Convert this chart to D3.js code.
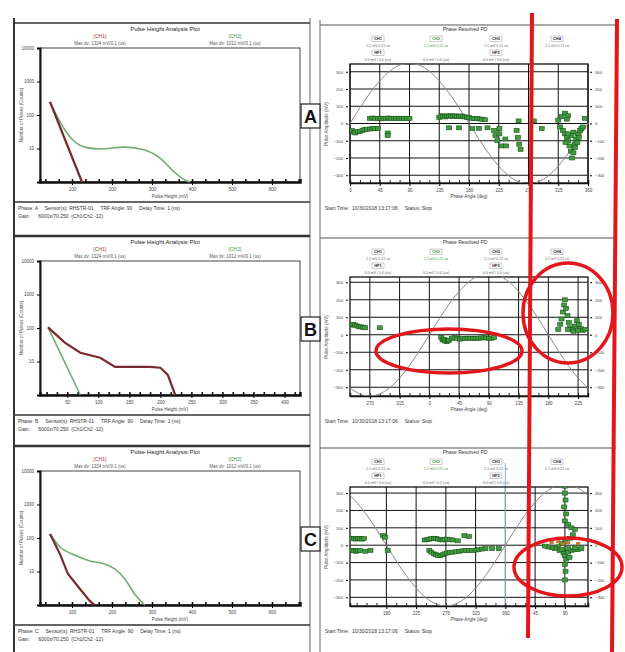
<!DOCTYPE html>
<html>
<head>
<meta charset="utf-8">
<script src="https://cdn.jsdelivr.net/npm/d3@7"></script>
<style>
  body { margin: 0; background: #fff; }
  text { font-family: "Liberation Sans", Arial, sans-serif; }
</style>
</head>
<body>
<svg id="chart" width="625" height="652"></svg>
<script>
// pulse height analysis curves, [pulse height (mV), pulse count]
var phaRedA = [[45,245],[85,15.6],[125,1]];
var phaGreenA = [[45,245],[70,62],[95,22],[132,11],[170,9.7],[232,11],[282,9],[320,5.2],[350,2.3],[382,1.15],[395,1]];
var phaRedB = [[19,104],[46,36.6],[71,18.3],[103,12.9],[127,6.9],[183,6.9],[200,6.5],[212,4],[224,1]];
var phaGreenB = [[19,104],[71,1]];
var phaRedC = [[45,132],[70,33],[90,8.4],[120,3],[145,1.3],[157,1]];
var phaGreenC = [[45,132],[70,54],[107,31],[145,20.5],[182,16.7],[207,11.9],[232,6],[257,2.1],[282,1]];

var heightTicksAC = [100,200,300,400,500,600];
var heightTicksB = [50,100,150,200,250,300,350,400];
var countTicks = [10,100,1000,10000];

// phase resolved plots, [phase (deg), amplitude (mV)]
var phaseTicksA = [0,45,90,135,180,225,270,315,360];
var phaseTicksB = [-90,-45,0,45,90,135,180,225];
var phaseTicksC = [180,225,270,315,360,405,450];
var ampTicks = [-300,-200,-100,0,100,200,300];

// reference voltage waveform
var refPhase = [0,15,30,45,60,75,90,105,120,135,150,165,180,195,210,225,240,255,270,285,300,315,330,345,360];
var refVolt = [0,91,175,247,303,338,350,338,303,247,175,91,0,-91,-175,-247,-303,-338,-350,-338,-303,-247,-175,-91,0];

var prpdA = [
  [30,30],[34,32],[38,30],[42,30],[46,31],[50,30],[54,30],[58,32],[62,30],[66,30],[70,31],[74,30],[78,30],[82,31],[86,30],[90,30],
  [135,35],[138,45],[141,40],[144,38],[147,45],[150,42],[153,45],[156,40],[159,45],[162,42],[165,40],[168,44],[171,42],
  [174,38],[177,36],[180,36],[184,30],[188,30],[192,28],[196,26],[200,25],[204,22],
  [3,-40],[6,-50],[8,-55],[12,-48],[15,-45],[19,-40],[22,-35],[26,-33],[30,-32],[34,-30],[38,-30],[42,-30],[57,-55],[57,-70],
  [150,-25],[165,-25],[185,-30],[195,-28],[208,-25],
  [218,-40],[220,-70],[223,-100],[226,-60],[230,-130],[235,-90],[226,-30],[236,-130],
  [252,-40],[254,-80],[256,-120],[258,-150],[255,15],[278,15],[290,-30],
  [315,20],[320,40],[325,60],[330,45],[328,25],[318,-20],[322,-40],[325,-60],[328,-80],[330,-100],
  [332,-130],[334,-160],[336,-200],[338,-170],[340,-120],[342,-90],[345,-60],[348,-40],[350,-30],
  [352,-20],[338,-50],[335,-70],[330,-60],[326,-110],[344,-110],[346,-80],[340,-140],[355,30]
];
var prpdB = [
  [-118,55],[-115,60],[-112,55],[-109,50],[-106,45],[-103,45],[-100,42],[-97,40],[-75,40],
  [18,-15],[20,-30],[22,-25],[24,-35],[26,-40],[28,-35],[30,-30],[34,-20],[38,-15],[42,-20],[46,-25],[50,-22],[54,-22],
  [58,-20],[62,-20],[66,-22],[70,-20],[74,-20],[78,-18],[82,-18],[86,-18],[90,-20],[94,-20],[98,-15],
  [195,30],[198,60],[200,90],[202,130],[204,170],[205,200],[207,150],[209,110],[211,70],[213,40],
  [216,30],[220,50],[223,80],[226,60],[229,35],[232,25],[210,30],[218,20],[225,25],[236,30]
];
var prpdC = [
  [128,40],[131,38],[134,35],[137,40],[140,38],[143,35],[146,38],[128,-30],[131,-32],[134,-35],[137,-32],[140,-30],[148,-35],[156,-30],
  [175,55],[178,45],[182,-30],
  [238,30],[242,33],[245,35],[248,38],[252,40],[255,38],[258,35],[262,32],[265,30],[268,33],[272,35],[276,32],[280,30],[288,25],
  [245,-30],[248,-40],[252,-50],[255,-55],[258,-60],[262,-58],[265,-55],[268,-50],[272,-45],[276,-42],[280,-40],[285,-38],
  [290,-35],[295,-32],[300,-30],[305,-30],[310,-30],[315,-28],[320,-25],[325,-22],[330,-20],[340,-20],[350,-20],[298,55],[305,50],
  [450,340],[450,300],[451,260],[449,220],[452,180],[450,140],[455,120],[460,100],[465,90],
  [462,60],[458,40],[450,20],[445,10],[440,-10],[435,-20],[442,-30],[448,-45],[450,-60],
  [452,-80],[450,-110],[451,-150],[450,-200],[455,-40],[460,-30],[465,-25],[470,-25],[475,-20],
  [430,-15],[425,-10],[420,-5],[465,-15],[455,-20],[445,-25],[457,-70]
];
var prpdRedC = [[430,15],[440,20],[455,15],[470,10],[447,8]];

var svg = d3.select("#chart");
var ink = "#333";
var rowShift = [0, 213, 423];

//outer frame lines
svg.append("line").attr("x1",14).attr("x2",14).attr("y1",18).attr("y2",652).attr("stroke",ink).attr("stroke-width",2);
svg.append("line").attr("x1",310).attr("x2",310).attr("y1",18).attr("y2",652).attr("stroke","#666").attr("stroke-width",1);
svg.append("line").attr("x1",320).attr("x2",320).attr("y1",20).attr("y2",652).attr("stroke","#666").attr("stroke-width",1);

var drawPha = function(dy, letter, xDomain, xTicks, redData, greenData) {
  var g = svg.append("g").attr("transform", "translate(0," + dy + ")");
  var x = d3.scaleLinear().domain(xDomain).range([40, 300]);
  var y = d3.scaleLog().domain([1, 10000]).range([182, 48]);

  g.append("line").attr("x1",14).attr("x2",310).attr("y1",23).attr("y2",23)
    .attr("stroke",ink).attr("stroke-width", dy ? 2.5 : 1.5);
  g.append("text").attr("x",165).attr("y",31).attr("text-anchor","middle")
    .attr("font-size",6).attr("fill","#222").text("Pulse Height Analysis Plot");

  //legend labels
  g.append("text").attr("x",100).attr("y",38).attr("text-anchor","middle").attr("font-size",5)
    .attr("fill","#b03030").text("[CH1]");
  g.append("text").attr("x",235).attr("y",38).attr("text-anchor","middle").attr("font-size",5)
    .attr("fill","#3a9a3a").text("[CH2]");
  g.append("text").attr("x",100).attr("y",45).attr("text-anchor","middle").attr("font-size",4.5)
    .attr("fill","#555").text("Max dv: 1324 mV/0.1 (us)");
  g.append("text").attr("x",235).attr("y",45).attr("text-anchor","middle").attr("font-size",4.5)
    .attr("fill","#555").text("Max dv: 1012 mV/0.1 (us)");

  g.append("rect").attr("x",40).attr("y",48).attr("width",260).attr("height",134)
    .attr("fill","none").attr("stroke","#444").attr("stroke-width",1);

  //bottom axis with minor ticks
  var minor = d3.range(Math.ceil(xDomain[0] / (xTicks[1] - xTicks[0]) * 3) * (xTicks[1] - xTicks[0]) / 3,
                       xDomain[1], (xTicks[1] - xTicks[0]) / 3);
  g.append("g").attr("transform","translate(0,182)")
    .call(d3.axisTop(x).tickValues(minor).tickSize(3).tickFormat(""))
    .call(function(a) { a.select(".domain").attr("stroke","#111").attr("stroke-width",2.5); })
    .selectAll("line").attr("stroke","#111").attr("stroke-width",1.6);
  g.append("g").attr("transform","translate(0,183)")
    .call(d3.axisBottom(x).tickValues(xTicks).tickSize(2).tickPadding(3))
    .call(function(a) { a.select(".domain").remove(); })
    .selectAll("text").attr("font-size",4.5).attr("fill","#444");
  g.append("text").attr("x",170).attr("y",198).attr("text-anchor","middle").attr("font-size",4.5)
    .attr("fill","#444").text("Pulse Height (mV)");

  //left axis
  g.append("g").attr("transform","translate(40,0)")
    .call(d3.axisLeft(y).tickValues(countTicks).tickSize(3).tickFormat(d3.format("d")))
    .call(function(a) { a.select(".domain").attr("stroke","#111").attr("stroke-width",2); })
    .selectAll("text").attr("font-size",4.5).attr("fill","#444");
  g.append("text").attr("transform","translate(23,115) rotate(-90)").attr("text-anchor","middle")
    .attr("font-size",4.5).attr("fill","#555").text("Number of Pulses (Counts)");

  var line = d3.line().x(function(d) { return x(d[0]); }).y(function(d) { return y(d[1]); });
  g.append("path").datum(greenData).attr("d", line.curve(d3.curveMonotoneX))
    .attr("fill","none").attr("stroke","#6fae6f").attr("stroke-width",1.6);
  g.append("path").datum(redData).attr("d", line.curve(d3.curveLinear))
    .attr("fill","none").attr("stroke","#7a2a2a").attr("stroke-width",2.2);

  //info block
  g.append("line").attr("x1",14).attr("x2",310).attr("y1",202).attr("y2",202)
    .attr("stroke",ink).attr("stroke-width",1.5);
  g.append("text").attr("x",18).attr("y",210).attr("font-size",5).attr("fill","#333")
    .attr("xml:space","preserve")
    .text("Phase: " + letter + "     Sensor(s): RHSTR-01     TRF Angle: 90     Delay Time: 1 (ns)");
  g.append("text").attr("x",18).attr("y",218).attr("font-size",5).attr("fill","#333")
    .attr("xml:space","preserve").text("Gain:      6000x/70.250  (Ch1/Ch2 -12)");

  //panel letter
  g.append("rect").attr("x",301).attr("y",104).attr("width",19).attr("height",24)
    .attr("fill","#fff").attr("stroke","#222").attr("stroke-width",1.2);
  g.append("text").attr("x",310.5).attr("y",123).attr("text-anchor","middle")
    .attr("font-family","'Liberation Serif', serif").attr("font-weight","bold")
    .attr("font-size",18).attr("fill","#111").text(letter);
};

var drawPrpd = function(dy, idx, xDomain, yDomain, xTicks, points, redPoints, bluePhase) {
  var g = svg.append("g").attr("transform", "translate(0," + dy + ")");
  var x = d3.scaleLinear().domain(xDomain).range([350, 588]);
  var y = d3.scaleLinear().domain(yDomain).range([183, 64]);

  g.append("line").attr("x1",320).attr("x2",616).attr("y1",25).attr("y2",25)
    .attr("stroke","#555").attr("stroke-width",1.2);
  g.append("text").attr("x",465).attr("y",31).attr("text-anchor","middle")
    .attr("font-size",5).attr("fill","#333").text("Phase Resolved PD");

  //channel headers
  var heads = [378, 436, 496, 557];
  heads.forEach(function(hx, i) {
    var col = i === 1 ? "#3a9a3a" : "#222";
    g.append("rect").attr("x",hx - 6).attr("y",36).attr("width",12).attr("height",5.5)
      .attr("fill","none").attr("stroke","#999").attr("stroke-width",0.5);
    g.append("text").attr("x",hx).attr("y",40.3).attr("text-anchor","middle")
      .attr("font-size",4).attr("font-weight","bold").attr("fill",col).text("CH" + (i + 1));
    g.append("text").attr("x",hx).attr("y",47).attr("text-anchor","middle")
      .attr("font-size",3.6).attr("fill",i === 1 ? "#3a9a3a" : "#666").text("1.1 mV 0.21 us");
    if (i === 0 || i === 2) {
      g.append("rect").attr("x",hx - 6).attr("y",50).attr("width",12).attr("height",5.5)
        .attr("fill","none").attr("stroke","#999").attr("stroke-width",0.5);
      g.append("text").attr("x",hx).attr("y",54.3).attr("text-anchor","middle")
        .attr("font-size",4).attr("font-weight","bold").attr("fill","#222").text("HF" + (i + 1));
    }
    if (i < 3) {
      g.append("text").attr("x",hx).attr("y",61).attr("text-anchor","middle")
        .attr("font-size",3.6).attr("fill","#666").text("0.0 mV / 0.0 (us)");
    }
  });

  g.append("defs").append("clipPath").attr("id","clip" + idx)
    .append("rect").attr("x",350).attr("y",64).attr("width",238).attr("height",119);

  //grid
  g.append("g").selectAll("line.h").data(ampTicks).enter().append("line")
    .attr("x1",350).attr("x2",588).attr("y1",function(d) { return y(d); }).attr("y2",function(d) { return y(d); })
    .attr("stroke","#111").attr("stroke-width",1);
  g.append("g").selectAll("line.v").data(xTicks).enter().append("line")
    .attr("x1",function(d) { return x(d); }).attr("x2",function(d) { return x(d); })
    .attr("y1",64).attr("y2",183).attr("stroke","#111").attr("stroke-width",1);
  if (bluePhase !== null) {
    g.append("line").attr("x1",x(bluePhase)).attr("x2",x(bluePhase)).attr("y1",40).attr("y2",186)
      .attr("stroke","#8fb3e0").attr("stroke-width",1);
  }
  g.append("rect").attr("x",350).attr("y",64).attr("width",238).attr("height",119)
    .attr("fill","none").attr("stroke","#111").attr("stroke-width",1.3);

  //axes
  var minor = d3.range(Math.ceil(xDomain[0] / 15) * 15, xDomain[1], 15);
  g.append("g").attr("transform","translate(0,183)")
    .call(d3.axisTop(x).tickValues(minor).tickSize(3).tickFormat(""))
    .call(function(a) { a.select(".domain").attr("stroke","#111").attr("stroke-width",1.5); })
    .selectAll("line").attr("stroke","#222");
  g.append("g").attr("transform","translate(0,184)")
    .call(d3.axisBottom(x).tickValues(xTicks).tickSize(2).tickPadding(3)
      .tickFormat(function(d) { return ((d % 360) + 360) % 360 || (d === 0 ? 0 : 360); }))
    .call(function(a) { a.select(".domain").remove(); })
    .selectAll("text").attr("font-size",4.5).attr("fill","#444");
  g.append("text").attr("x",469).attr("y",198).attr("text-anchor","middle").attr("font-size",4.5)
    .attr("fill","#444").text("Phase Angle (deg)");
  g.append("g").attr("transform","translate(348,0)")
    .call(d3.axisLeft(y).tickValues(ampTicks).tickSize(2))
    .call(function(a) { a.select(".domain").remove(); })
    .selectAll("text").attr("font-size",4.2).attr("fill","#444");
  g.append("g").attr("transform","translate(590,0)")
    .call(d3.axisRight(y).tickValues(ampTicks).tickSize(2))
    .call(function(a) { a.select(".domain").remove(); })
    .selectAll("text").attr("font-size",4.2).attr("fill","#444");
  g.append("text").attr("transform","translate(328,124) rotate(-90)").attr("text-anchor","middle")
    .attr("font-size",4.5).attr("fill","#555").text("Pulse Amplitude (mV)");

  //reference sine, repeated over the phase window
  var wave = [];
  [-360, 0, 360].forEach(function(k) {
    refPhase.forEach(function(p, i) { wave.push([p + k, refVolt[i]]); });
  });
  wave = wave.filter(function(d, i, arr) {
    return d[0] >= xDomain[0] - 30 && d[0] <= xDomain[1] + 30 && !(i > 0 && arr[i - 1][0] === d[0]);
  });
  g.append("path").datum(wave).attr("clip-path","url(#clip" + idx + ")")
    .attr("d", d3.line().x(function(d) { return x(d[0]); }).y(function(d) { return y(d[1]); }).curve(d3.curveNatural))
    .attr("fill","none").attr("stroke","#8a8a8a").attr("stroke-width",1);

  //pulses
  g.append("g").attr("clip-path","url(#clip" + idx + ")").selectAll("rect").data(points).enter().append("rect")
    .attr("x",function(d) { return x(d[0]) - 2.5; }).attr("y",function(d) { return y(d[1]) - 2; })
    .attr("width",5).attr("height",4)
    .attr("fill","#3f9c3f").attr("stroke","#1c561c").attr("stroke-width",0.6);
  g.append("g").selectAll("rect").data(redPoints).enter().append("rect")
    .attr("x",function(d) { return x(d[0]) - 2; }).attr("y",function(d) { return y(d[1]) - 1.5; })
    .attr("width",4).attr("height",3).attr("fill","#c8772f");

  g.append("text").attr("x",325).attr("y",210).attr("font-size",5).attr("fill","#333")
    .attr("xml:space","preserve").text("Start Time:  10/30/2018 13:17:06     Status: Stop");
};

drawPha(rowShift[0], "A", [20, 670], heightTicksAC, phaRedA, phaGreenA);
drawPha(rowShift[1], "B", [6, 425], heightTicksB, phaRedB, phaGreenB);
drawPha(rowShift[2], "C", [20, 670], heightTicksAC, phaRedC, phaGreenC);

drawPrpd(rowShift[0], 0, [0, 360], [-345, 345], phaseTicksA, prpdA, [], null);
drawPrpd(rowShift[1], 1, [-120, 240], [-350, 330], phaseTicksB, prpdB, [], null);
drawPrpd(rowShift[2], 2, [125, 485], [-350, 335], phaseTicksC, prpdC, prpdRedC, 360);

//red markings on top
var red = "#e3161b";
svg.append("line").attr("x1",532).attr("y1",13).attr("x2",528).attr("y2",638)
  .attr("stroke",red).attr("stroke-width",4);
svg.append("line").attr("x1",617).attr("y1",19).attr("x2",612).attr("y2",652)
  .attr("stroke",red).attr("stroke-width",4);
svg.append("ellipse").attr("cx",449).attr("cy",351).attr("rx",73).attr("ry",22)
  .attr("fill","none").attr("stroke",red).attr("stroke-width",3.5);
svg.append("ellipse").attr("cx",568).attr("cy",313).attr("rx",45).attr("ry",50)
  .attr("fill","none").attr("stroke",red).attr("stroke-width",3.5);
svg.append("ellipse").attr("cx",568).attr("cy",567).attr("rx",54).attr("ry",29)
  .attr("fill","none").attr("stroke",red).attr("stroke-width",3.5);
</script>
</body>
</html>
